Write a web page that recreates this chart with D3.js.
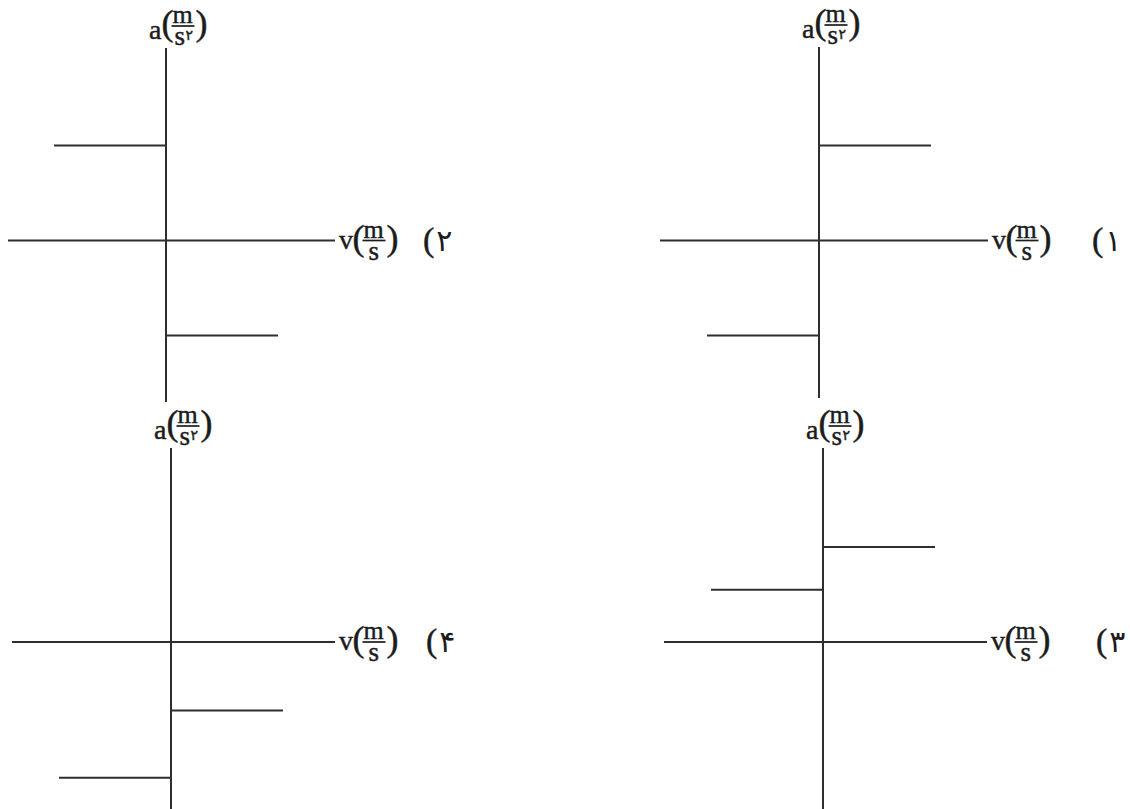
<!DOCTYPE html>
<html>
<head>
<meta charset="utf-8">
<script src="https://cdn.jsdelivr.net/npm/d3@7/dist/d3.min.js"></script>
<style>
  html, body { margin: 0; padding: 0; background: #fff; }
  svg { display: block; }
</style>
</head>
<body>
<svg id="chart" width="1130" height="809"></svg>
<script>
// Option numbers of the four a–v graphs
const panelNumbers = ["۱", "۲", "۳", "۴"];
// Acceleration on the v > 0 side of each graph
const accelPositiveV = [1, -1, 1, -0.72];
// Acceleration on the v < 0 side of each graph
const accelNegativeV = [-1, 1, 0.55, -1.43];
// Speed span covered by each step
const speedPositive = [0, 1];
const speedNegative = [-1, 0];
// Axis label pieces
const accelSymbol = "a";
const speedSymbol = "v";
const unitTop = "m";
const unitBottom = "s";
const squareMark = "۲";

// Frame of each graph on the page: origin, axis extents, option-number offset
const frames = [
  { ox: 819, oy: 240.5, xL: 660, xR: 988, yT: 47,  yB: 398, numDx: 104 },
  { ox: 166, oy: 240.5, xL: 8,   xR: 335, yT: 48,  yB: 402, numDx: 88 },
  { ox: 823, oy: 642,   xL: 664, xR: 987, yT: 448, yB: 809, numDx: 109 },
  { ox: 171, oy: 642,   xL: 12,  xR: 335, yT: 448, yB: 809, numDx: 91 }
];

const SERIF = "'Liberation Serif', 'Times New Roman', 'DejaVu Serif', serif";
const DIGITS = "'DejaVu Sans', 'Noto Sans', sans-serif";
const INK = "#1c1c1c";
const stroke = "#2e2e2e";
const svg = d3.select("#chart");

// "sym(m / s[sup])" as one text run; fraction bar at local y = 0
function unitLabel(g, sym, symX, sup, baseOff) {
  const px = symX + (sym === "a" ? 12.5 : 13.5);
  const fx0 = px + 10, fx1 = px + 33, fc = (fx0 + fx1) / 2;
  g.append("line").attr("x1", fx0).attr("x2", fx1).attr("y1", 0).attr("y2", 0)
    .attr("stroke", INK).attr("stroke-width", 1.7);
  const t = g.append("text").attr("font-family", SERIF).attr("fill", INK)
    .attr("stroke", INK).attr("stroke-width", 0.45);
  t.append("tspan").attr("x", symX).attr("y", baseOff).attr("font-size", 28).text(sym);
  t.append("tspan").attr("x", px).attr("y", 9).attr("font-size", 36).text("(");
  t.append("tspan").attr("x", fc - 10.5).attr("y", -3).attr("font-size", 26).text(unitTop);
  t.append("tspan").attr("x", fc - (sup ? 8.5 : 5.5)).attr("y", 19).attr("font-size", 27).text(unitBottom);
  if (sup) {
    t.append("tspan").attr("x", fc + 2.5).attr("y", 14).attr("font-size", 14)
      .attr("font-family", DIGITS).text(sup);
  }
  t.append("tspan").attr("x", fx1 + 1).attr("y", 9).attr("font-size", 36).text(")");
}

frames.forEach((f, i) => {
  const x = d3.scaleLinear().domain([-1, 1]).range([f.ox - 112, f.ox + 112]);
  const y = d3.scaleLinear().domain([-1, 1]).range([f.oy + 95, f.oy - 95]);
  const g = svg.append("g");

  // axes
  g.append("line").attr("x1", f.xL).attr("x2", f.xR)
    .attr("y1", y(0)).attr("y2", y(0))
    .attr("stroke", stroke).attr("stroke-width", 2);
  g.append("line").attr("x1", x(0)).attr("x2", x(0))
    .attr("y1", f.yT).attr("y2", f.yB)
    .attr("stroke", stroke).attr("stroke-width", 2);

  // step segments: constant acceleration on each side of v = 0
  const steps = [
    { v: speedPositive, a: accelPositiveV[i] },
    { v: speedNegative, a: accelNegativeV[i] }
  ];
  g.selectAll("line.step").data(steps).join("line")
    .attr("class", "step")
    .attr("x1", d => x(d.v[0])).attr("x2", d => x(d.v[1]))
    .attr("y1", d => y(d.a)).attr("y2", d => y(d.a))
    .attr("stroke", stroke).attr("stroke-width", 2);

  // acceleration axis label
  const ga = g.append("g").attr("transform", `translate(${x(0)},${f.yT - 22})`);
  unitLabel(ga, accelSymbol, -17, squareMark, 13);

  // speed axis label and option number
  const gv = g.append("g").attr("transform", `translate(${f.xR},${y(0)})`);
  unitLabel(gv, speedSymbol, 4, null, 8);
  const n = gv.append("text").attr("fill", INK).attr("y", 10);
  n.append("tspan").attr("x", f.numDx).attr("font-family", SERIF).attr("font-size", 34)
    .attr("stroke", INK).attr("stroke-width", 0.45).text("(");
  n.append("tspan").attr("dx", 2).attr("font-family", DIGITS).attr("font-size", 30).text(panelNumbers[i]);
});
</script>
</body>
</html>
